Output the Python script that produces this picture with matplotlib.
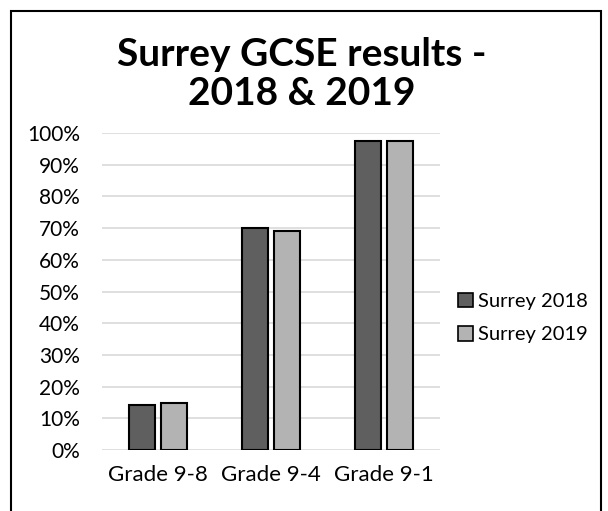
import matplotlib
matplotlib.use("Agg")
import matplotlib.pyplot as plt
import matplotlib.patches as mpatches
import numpy as np

plt.rcParams['font.family'] = ['Lato', 'DejaVu Sans']

categories = ["Grade 9-8", "Grade 9-4", "Grade 9-1"]
surrey_2018 = [0.143, 0.70, 0.976]
surrey_2019 = [0.147, 0.69, 0.976]
series_labels = ["Surrey 2018", "Surrey 2019"]
yticks = np.arange(0, 1.01, 0.1)
ytick_labels = ["%d%%" % round(v * 100) for v in yticks]

dark = "#5f5f5f"
light = "#b3b3b3"

fig = plt.figure(figsize=(6.08, 5.11), dpi=100)
ax = fig.add_axes([102 / 608, 1 - 450 / 511, 338 / 608, 317 / 511])

x = np.arange(len(categories))
w = 0.231
off = 0.142
ax.bar(x - off, surrey_2018, w, color=dark, edgecolor="black", linewidth=1.5, zorder=3)
ax.bar(x + off, surrey_2019, w, color=light, edgecolor="black", linewidth=1.5, zorder=3)

ax.set_xlim(-0.5, 2.5)
ax.set_ylim(0, 1.0)
ax.set_yticks(yticks)
ax.set_yticklabels(ytick_labels, fontsize=15)
ax.set_xticks(x)
ax.set_xticklabels(categories, fontsize=16)
ax.tick_params(axis='x', length=0, pad=11)
ax.tick_params(axis='y', length=0, pad=16)
ax.grid(axis='y', color="#d9d9d9", linewidth=1.2, zorder=0)
for s in ax.spines.values():
    s.set_visible(False)

fig.text(0.497, 1 - 74 / 511, "Surrey GCSE results -\n2018 & 2019", ha="center", va="center",
         fontsize=28, fontweight="bold", linespacing=1.15)

handles = [mpatches.Patch(facecolor=dark, edgecolor="black", linewidth=1.2),
           mpatches.Patch(facecolor=light, edgecolor="black", linewidth=1.2)]
fig.legend(handles, series_labels, loc="center left", bbox_to_anchor=(440 / 608, 1 - 318 / 511),
           frameon=False, fontsize=14.5, handlelength=0.75, handleheight=0.75, handletextpad=0.25,
           labelspacing=0.8)

frame = mpatches.Rectangle((11 / 608, -0.1), 590 / 608, 1.1 - 11 / 511, transform=fig.transFigure,
                           fill=False, edgecolor="black", linewidth=1.5)
fig.patches.append(frame)

fig.savefig("out.png", dpi=100)
